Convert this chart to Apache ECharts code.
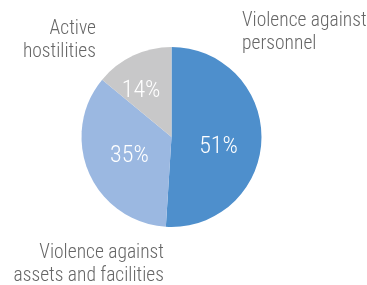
<!DOCTYPE html>
<html>
<head>
<meta charset="utf-8">
<script src="https://cdn.jsdelivr.net/npm/echarts@6/dist/echarts.min.js"></script>
<style>
  html, body { margin: 0; padding: 0; background: #fff; }
  #main { width: 367px; height: 285px; }
</style>
</head>
<body>
<div id="main"></div>
<script>
    var chartDom = document.getElementById('main');
    var myChart = echarts.init(chartDom);

    // 数据
    var categories = ['Violence against\npersonnel', 'Violence against\nassets and facilities', 'Active\nhostilities'];
    var values = [51, 35, 14];
    var colors = ['#4e8fcc', '#9bb8e1', '#c8c8c9'];

    var fontFamily = '"Roboto Condensed", "Liberation Sans Narrow", Roboto, sans-serif';

    // 内部标签微调
    var labelShift = [[-1, 8], [2, 0], [-10, -3]];

    // 外部标签 (锚点 + 对齐)
    var outerLabels = [
        { x: 242, y: 10, align: 'left' },
        { x: 164, y: 242, align: 'right' },
        { x: 96, y: 18, align: 'right' }
    ];

    var option = {
        animation: false,
        color: colors,
        series: [{
            type: 'pie',
            center: [171.5, 137],
            radius: [0, 90],
            startAngle: 90,
            clockwise: true,
            silent: true,
            label: {
                position: 'inside',
                formatter: '{c}%',
                color: '#fff',
                fontSize: 24,
                fontWeight: 300,
                fontFamily: fontFamily
            },
            labelLine: { show: false },
            labelLayout: function (params) {
                var s = labelShift[params.dataIndex];
                return { dx: s[0], dy: s[1] };
            },
            data: categories.map(function (c, i) {
                return { name: c, value: values[i] };
            })
        }],
        graphic: categories.map(function (c, i) {
            var p = outerLabels[i];
            return {
                type: 'text',
                x: p.x,
                y: p.y,
                style: {
                    text: c,
                    fill: '#666',
                    font: '300 19.5px ' + fontFamily,
                    lineHeight: 23,
                    align: p.align,
                    verticalAlign: 'top'
                }
            };
        })
    };

    myChart.setOption(option);
</script>
</body>
</html>
